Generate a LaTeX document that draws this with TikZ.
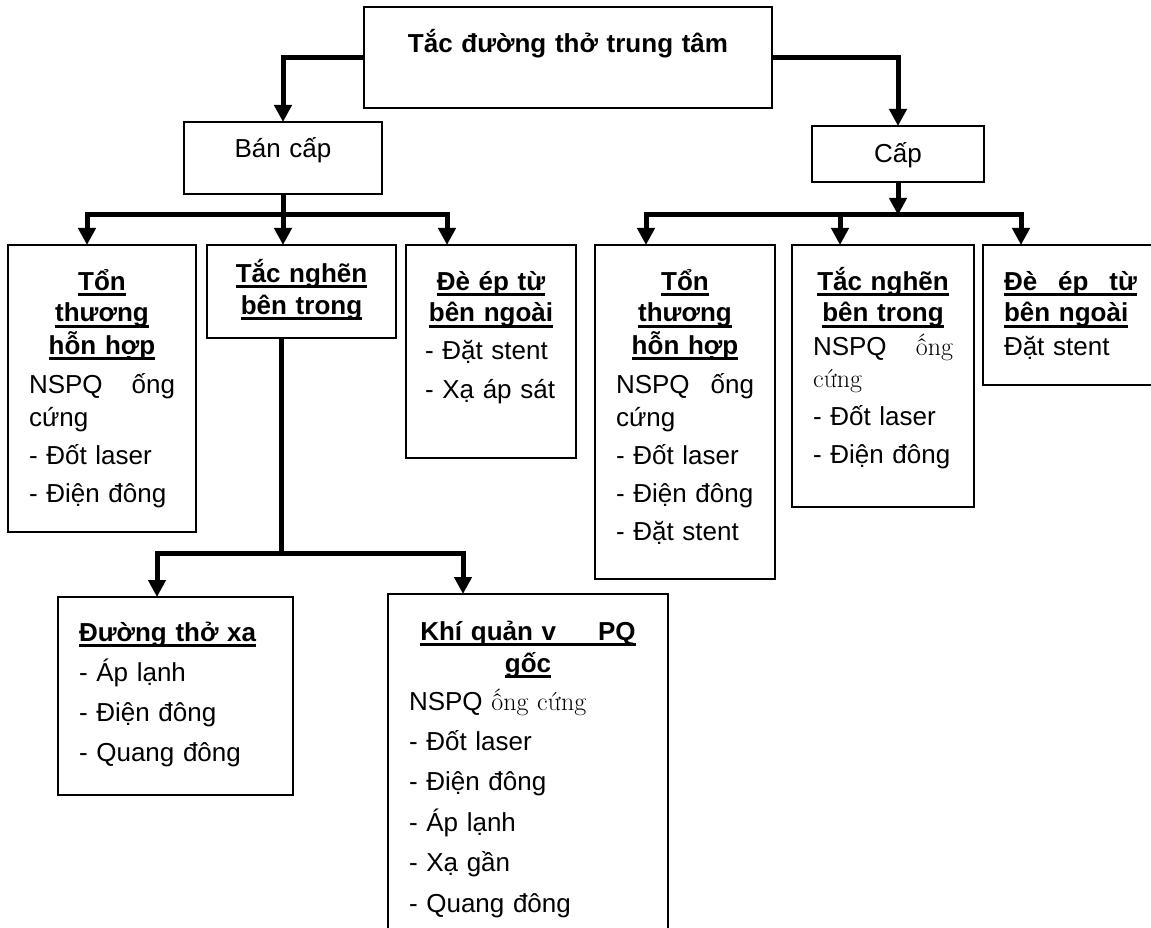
\documentclass[tikz,border=0pt]{standalone}
\usepackage{fontspec}
\setsansfont{Liberation Sans}
\renewcommand{\familydefault}{\sfdefault}
\usetikzlibrary{arrows.meta}
\newcommand{\uln}[1]{\leavevmode\setbox0=\hbox{#1}\rlap{\rule[-6pt]{\wd0}{2.8pt}}\box0}
\newcommand{\hd}[1]{\uln{\textbf{#1}}}
\newcommand{\js}[1]{\leavevmode\hbox to\hsize{#1}}
\begin{document}
\begin{tikzpicture}[x=1pt,y=-1pt,
  cell/.style={draw,line width=1.3pt,anchor=north west,inner xsep=21pt,inner ysep=0pt,outer sep=0pt,align=left,font=\fontsize{26pt}{32pt}\selectfont},
  link/.style={line width=5pt},
  arr/.style={line width=5pt,-{Triangle[length=17pt,width=17pt]}}]
\useasboundingbox (0,0) rectangle (1151,928);

\node[cell,align=center,text width=366pt,text height=46pt,text depth=55pt] (root) at (364,7) {\textbf{Tắc đường thở trung tâm}};
\node[cell,align=center,text width=156pt,text height=36pt,text depth=36pt] (banCap) at (184,122) {Bán cấp};
\node[cell,align=center,text width=130pt,text height=37pt,text depth=19pt] (cap) at (812,126) {Cấp};

\node[cell,text width=146pt,text height=45pt,text depth=242pt] (tonL) at (8,245)
  {{\centering\hd{Tổn}\\\hd{thương}\\\hd{hỗn hợp}\par}\vspace{8pt}
   \js{NSPQ\hfill ống}\\cứng\\[6pt]- Đốt laser\\[6pt]- Điện đông};
\node[cell,align=center,text width=147pt,text height=37pt,text depth=56pt] (tacL) at (207,245)
  {\hd{Tắc nghẽn}\\\hd{bên trong}};
\node[cell,text width=132pt,inner xsep=19pt,text height=45pt,text depth=168pt] (deL) at (406,245)
  {{\centering\hd{Đè ép từ}\\\hd{bên ngoài}\par}\vspace{6pt}
   - Đặt stent\\[6pt]- Xạ~áp~sát};

\node[cell,text width=138pt,text height=45pt,text depth=289pt] (tonR) at (595,245)
  {{\centering\hd{Tổn}\\\hd{thương}\\\hd{hỗn hợp}\par}\vspace{8pt}
   \js{NSPQ\hfill ống}\\cứng\\[6pt]- Đốt laser\\[6pt]- Điện đông\\[6pt]- Đặt stent};
\node[cell,text width=140pt,text height=45pt,text depth=217pt] (tacR) at (792,245)
  {{\centering\hd{Tắc nghẽn}\\\hd{bên trong}\par}\vspace{1pt}
   \js{NSPQ\hfill{\rmfamily ống}}\\{\rmfamily cứng}\\[6pt]- Đốt laser\\[6pt]- Điện đông};
\node[cell,text width=133pt,text height=45pt,text depth=95pt] (deR) at (983,245)
  {\hd{\js{Đè\hfill ép\hfill từ}}\\\hd{bên ngoài}\\[1pt]Đặt stent};

\node[cell,text width=193pt,text height=44pt,text depth=154pt] (xaL) at (58,597)
  {\hd{Đường thở xa}\\[8pt]- Áp lạnh\\[8pt]- Điện đông\\[8pt]- Quang đông};
\node[cell,text width=238pt,text height=46pt,text depth=400pt] (kqL) at (388,594)
  {{\centering\hd{Khí quản v\hspace{42pt}PQ}\\\hd{gốc}\par}\vspace{6pt}
   NSPQ {\rmfamily ống cứng}\\[8pt]- Đốt laser\\[8pt]- Điện đông\\[9pt]- Áp lạnh\\[8pt]- Xạ gần\\[9pt]- Quang đông};

\coordinate (bL1) at (87,215);
\coordinate (bL3) at (447,215);
\coordinate (bR1) at (646,215);
\coordinate (bR2) at (840,215);
\coordinate (bR3) at (1021,215);
\coordinate (jB) at (281,553);
\coordinate (bB1) at (157,553);
\coordinate (bB2) at (463,553);

\draw[arr] (root.west) -| (banCap.north);
\draw[arr] (root.east) -| (cap.north);

\draw[link] (banCap.south) -- (banCap.south |- bL1);
\draw[arr] (bL3) -- (bL1) -- (bL1 |- tonL.north);
\draw[arr] (bL1) -- (bL3) -- (bL3 |- deL.north);
\draw[arr] (banCap.south |- bL1) -- (banCap.south |- tacL.north);

\draw[arr] (cap.south) -- (cap.south |- bR1);
\draw[arr] (bR3) -- (bR1) -- (bR1 |- tonR.north);
\draw[arr] (bR1) -- (bR3) -- (bR3 |- deR.north);
\draw[arr] (bR2) -- (bR2 |- tacR.north);

\draw[link] (tacL.south -| jB) -- (jB);
\draw[arr] (bB2) -- (bB1) -- (bB1 |- xaL.north);
\draw[arr] (bB1) -- (bB2) -- (bB2 |- kqL.north);
\end{tikzpicture}
\end{document}
